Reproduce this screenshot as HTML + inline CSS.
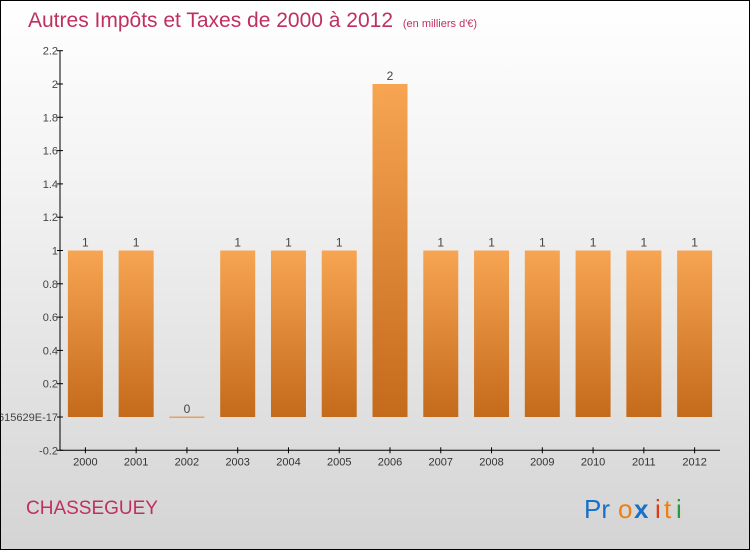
<!DOCTYPE html>
<html><head><meta charset="utf-8"><style>
body{margin:0;}
#c{width:748px;height:548px;border:1px solid #000;background:linear-gradient(#ffffff,#f4f4f4 30%,#d4d4d4);position:relative;font-family:"Liberation Sans",sans-serif;overflow:hidden}
</style></head><body>
<div id="c">
<svg id="s" width="748" height="548" style="position:absolute;left:0;top:0">
<defs><linearGradient id="g" x1="0" y1="0" x2="0" y2="1"><stop offset="0" stop-color="#f7a552"/><stop offset="1" stop-color="#c46a1b"/></linearGradient></defs>
<text x="27" y="26" font-size="21" fill="#c0305e">Autres Impôts et Taxes de 2000 à 2012 <tspan font-size="11" dx="4">(en milliers d'€)</tspan></text>
<text x="25" y="513" font-size="19" fill="#c0305e">CHASSEGUEY</text>
<g font-size="26" font-family="'Liberation Sans',sans-serif">
<text x="583" y="517" fill="#1a6fc7">Pr</text><text x="617" y="517" fill="#f07f10">o</text><text x="633" y="517" fill="#1a6fc7" font-weight="bold">x</text><text x="654" y="517" fill="#e03a10">i</text><text x="663" y="517" fill="#f07f10">t</text><text x="675" y="517" fill="#2a9a3a">i</text>
</g>
<g id="ax"></g><g id="bars"></g>
</svg>
</div>
<script>
const years=["2000","2001","2002","2003","2004","2005","2006","2007","2008","2009","2010","2011","2012"];
const values=[1,1,0,1,1,1,2,1,1,1,1,1,1];
const ticks=[-0.2,0,0.2,0.4,0.6,0.8,1,1.2,1.4,1.6,1.8,2,2.2];
const tickLabels=["-0.2","-1.5265566615629E-17","0.2","0.4","0.6","0.8","1","1.2","1.4","1.6","1.8","2","2.2"];
const NS="http://www.w3.org/2000/svg";
const x0=59,band=50.77,bw=35;
const y=v=>416-v*166.5;
const xc=i=>x0+band*(i+0.5);
function mk(t,a,p){const e=document.createElementNS(NS,t);for(const k in a)e.setAttribute(k,a[k]);p.appendChild(e);return e;}
const ax=document.getElementById('ax'),bars=document.getElementById('bars');
const yl=mk('line',{x1:x0,y1:y(2.2),x2:x0,y2:y(-0.2),stroke:'#000'},ax);


const xl=mk('line',{x1:x0,y1:y(-0.2),x2:x0+band*13,y2:y(-0.2),stroke:'#000'},ax);


ticks.forEach((t,i)=>{
  mk('line',{x1:x0-3,x2:x0+3,y1:y(t),y2:y(t),stroke:'#000'},ax);
  const tx=mk('text',{x:x0-2,y:y(t)+4,'font-size':11,fill:'#444','text-anchor':'end'},ax);
  tx.textContent=tickLabels[i];
  
  
});
years.forEach((yr,i)=>{
  const c=xc(i);
  mk('line',{x1:c,x2:c,y1:y(-0.2)-3,y2:y(-0.2)+3,stroke:'#000'},ax);
  const tx=mk('text',{x:c,y:y(-0.2)+15,'font-size':11,fill:'#333','text-anchor':'middle'},ax);
  tx.textContent=yr;
  
  
  const v=values[i];
  const top=y(Math.max(v,0)),h=Math.max(Math.abs(y(0)-y(v)),1.5);
  const r=mk('rect',{x:c-bw/2,y:v===0?y(0)-0.5:top,width:bw,height:h,fill:v===0?'#e8a060':'url(#g)'},bars);
  
  
  const lb=mk('text',{x:c,y:top-4,'font-size':12,fill:'#444','text-anchor':'middle'},bars);
  lb.textContent=v;
  
  
});
</script>
</body></html>
